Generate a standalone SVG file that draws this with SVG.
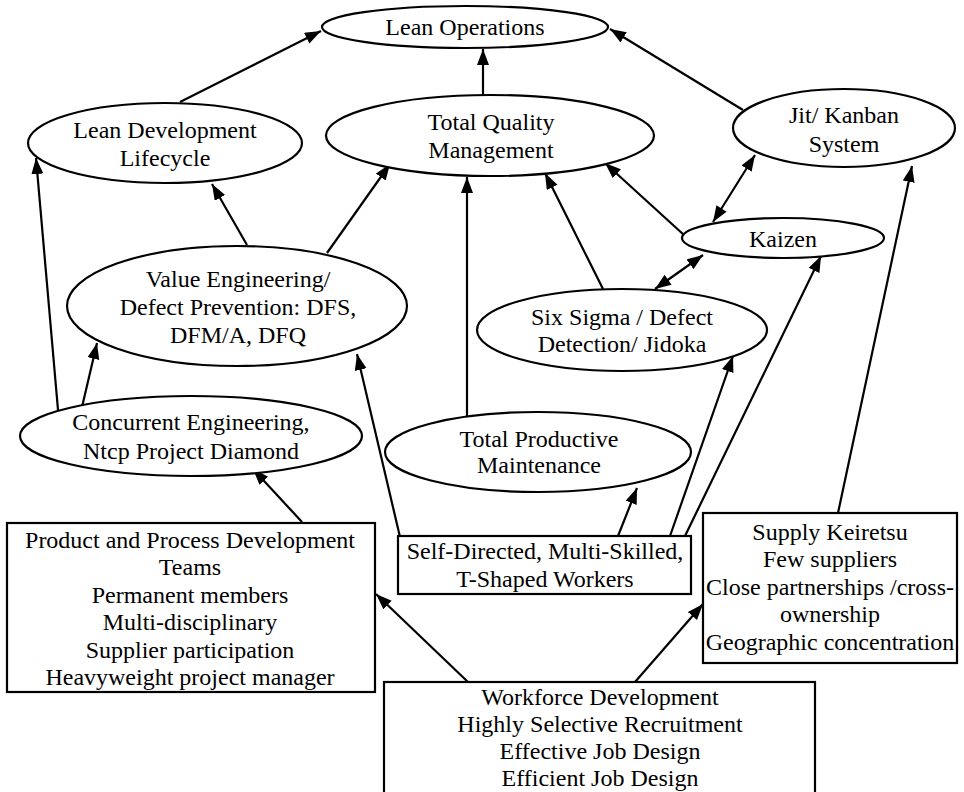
<svg xmlns="http://www.w3.org/2000/svg" width="964" height="792" viewBox="0 0 964 792">
<style>
  .n ellipse, .n rect { fill: #fff; stroke: #000; stroke-width: 2.2; }
  text { font-family: 'Liberation Serif', 'DejaVu Serif', serif; font-size: 24px; fill: #000; text-anchor: middle; }
  .c line { stroke: #000; stroke-width: 2.2; fill: none; }
  .a { marker-end: url(#ah); }
  .d { marker-end: url(#ah); marker-start: url(#ahs); }
</style>
<defs>
  <marker id="ah" markerUnits="userSpaceOnUse" markerWidth="18" markerHeight="14" refX="16" refY="6" orient="auto">
    <path d="M0,0 L16,6 L0,12 z" fill="#000"/>
  </marker>
  <marker id="ahs" markerUnits="userSpaceOnUse" markerWidth="18" markerHeight="14" refX="0" refY="6" orient="auto">
    <path d="M16,0 L0,6 L16,12 z" fill="#000"/>
  </marker>
</defs>
<rect x="0" y="0" width="964" height="792" fill="#fff"/>

<g class="c" id="connectors">
  <line class="a" x1="180" y1="102" x2="321" y2="31"/>
  <line class="a" x1="483" y1="95" x2="483" y2="49"/>
  <line class="a" x1="743" y1="110" x2="610" y2="29"/>
  <line class="d" x1="713" y1="222" x2="755" y2="155"/>
  <line class="a" x1="684" y1="235" x2="605" y2="163"/>
  <line class="a" x1="603" y1="289" x2="545" y2="173"/>
  <line class="d" x1="655" y1="289" x2="703" y2="255"/>
  <line class="a" x1="467" y1="416" x2="467" y2="177"/>
  <line class="a" x1="247" y1="245" x2="212" y2="184"/>
  <line class="a" x1="327" y1="253" x2="390" y2="164"/>
  <line class="a" x1="58" y1="410" x2="36" y2="158"/>
  <line class="a" x1="82" y1="407" x2="97" y2="343"/>
  <line class="a" x1="302" y1="522" x2="253" y2="469"/>
  <line class="a" x1="400" y1="537" x2="357" y2="354"/>
  <line class="a" x1="618" y1="536" x2="637" y2="488"/>
  <line class="a" x1="670" y1="536" x2="733" y2="356"/>
  <line class="a" x1="685" y1="536" x2="821" y2="256"/>
  <line class="a" x1="838" y1="513" x2="912" y2="166"/>
  <line class="a" x1="468" y1="682" x2="376" y2="594"/>
  <line class="a" x1="635" y1="682" x2="703" y2="604"/>
</g>

<g class="n" id="lean-operations" font-family="Liberation Serif">
  <ellipse cx="465" cy="27" rx="143" ry="21"/>
  <text x="465" y="35">Lean Operations</text>
</g>
<g class="n" id="lean-development" font-family="Liberation Serif">
  <ellipse cx="165" cy="143" rx="137" ry="40"/>
  <text x="165" y="138">Lean Development</text>
  <text x="165" y="166">Lifecycle</text>
</g>
<g class="n" id="tqm" font-family="Liberation Serif">
  <ellipse cx="490" cy="135.5" rx="164" ry="40.5"/>
  <text x="491" y="130">Total Quality</text>
  <text x="491" y="158">Management</text>
</g>
<g class="n" id="jit-kanban" font-family="Liberation Serif">
  <ellipse cx="844" cy="128" rx="111" ry="39"/>
  <text x="844" y="123">Jit/ Kanban</text>
  <text x="844" y="152">System</text>
</g>
<g class="n" id="kaizen" font-family="Liberation Serif">
  <ellipse cx="783" cy="238" rx="101" ry="20"/>
  <text x="783" y="247">Kaizen</text>
</g>
<g class="n" id="value-engineering" font-family="Liberation Serif">
  <ellipse cx="237" cy="306" rx="170" ry="60"/>
  <text x="238" y="287">Value Engineering/</text>
  <text x="238" y="315">Defect Prevention: DFS,</text>
  <text x="238" y="343">DFM/A, DFQ</text>
</g>
<g class="n" id="six-sigma" font-family="Liberation Serif">
  <ellipse cx="622" cy="330" rx="145" ry="41"/>
  <text x="622" y="325">Six Sigma / Defect</text>
  <text x="622" y="352">Detection/ Jidoka</text>
</g>
<g class="n" id="concurrent-engineering" font-family="Liberation Serif">
  <ellipse cx="191" cy="436" rx="171" ry="40"/>
  <text x="191" y="430">Concurrent Engineering,</text>
  <text x="191" y="459">Ntcp Project Diamond</text>
</g>
<g class="n" id="tpm" font-family="Liberation Serif">
  <ellipse cx="538" cy="452" rx="153" ry="40"/>
  <text x="539" y="447">Total Productive</text>
  <text x="539" y="473">Maintenance</text>
</g>
<g class="n" id="product-process-teams" font-family="Liberation Serif">
  <rect x="7" y="523" width="368" height="169"/>
  <text x="190" y="548">Product and Process Development</text>
  <text x="190" y="575">Teams</text>
  <text x="190" y="603">Permanent members</text>
  <text x="190" y="630">Multi-disciplinary</text>
  <text x="190" y="658">Supplier participation</text>
  <text x="190" y="685">Heavyweight project manager</text>
</g>
<g class="n" id="self-directed-workers" font-family="Liberation Serif">
  <rect x="398" y="536" width="293" height="58"/>
  <text x="545" y="559">Self-Directed, Multi-Skilled,</text>
  <text x="545" y="587">T-Shaped Workers</text>
</g>
<g class="n" id="supply-keiretsu" font-family="Liberation Serif">
  <rect x="703" y="513" width="254" height="150"/>
  <text x="830" y="540">Supply Keiretsu</text>
  <text x="830" y="567">Few suppliers</text>
  <text x="830" y="595">Close partnerships /cross-</text>
  <text x="830" y="622">ownership</text>
  <text x="830" y="650">Geographic concentration</text>
</g>
<g class="n" id="workforce-development" font-family="Liberation Serif">
  <rect x="384" y="682" width="431" height="120"/>
  <text x="600" y="705">Workforce Development</text>
  <text x="600" y="732">Highly Selective Recruitment</text>
  <text x="600" y="759">Effective Job Design</text>
  <text x="600" y="786">Efficient Job Design</text>
</g>
</svg>
